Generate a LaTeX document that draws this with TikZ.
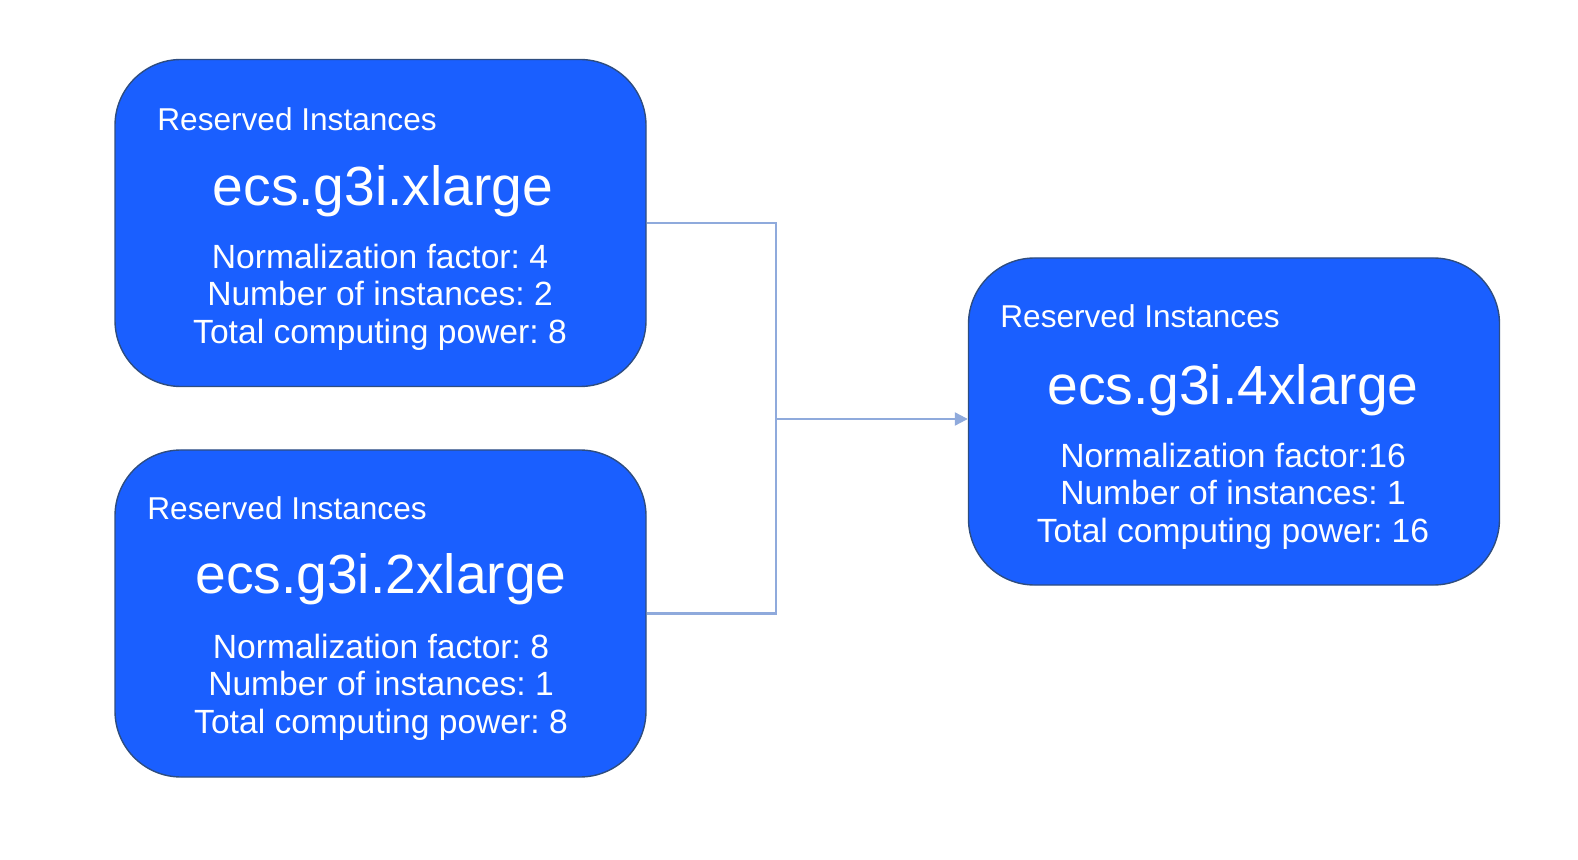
\documentclass[tikz,border=0pt]{standalone}
\usepackage{fontspec}
\setmainfont{Liberation Sans}
\frenchspacing
\usetikzlibrary{arrows.meta}
\definecolor{riblue}{HTML}{1A5FFF}
\definecolor{riedge}{HTML}{2E4D80}
\definecolor{linkblue}{HTML}{8FAADC}

\begin{document}
\begin{tikzpicture}[x=0.5pt,y=-0.5pt,
  ribox/.style={draw=riedge,line width=0.7pt,fill=riblue,rounded corners=33pt,
    minimum width=265.5pt,minimum height=163.5pt,inner sep=0pt},
  tag/.style={text=white,font=\fontsize{15.8}{18}\selectfont,anchor=west,inner sep=0pt},
  title/.style={text=white,font=\fontsize{27.6}{32}\selectfont,inner sep=0pt},
  info/.style={text=white,font=\fontsize{16.8}{18.8}\selectfont,align=center,inner sep=0pt},
  link/.style={draw=linkblue,line width=1.1pt}]
  \useasboundingbox (0,0) rectangle (1578,860);

  % instance boxes
  \node[ribox] (ri1) at (380.5,223) {};
  \node[ribox] (ri2) at (380.5,613.5) {};
  \node[ribox] (ri3) at (1234,421.5) {};

  \node[tag] (tag1) at (157,119) {Reserved Instances};
  \node[title] (type1) at (383,191) {ecs.g3i.xlarge};
  \node[info] (info1) at (380,297)
    {Normalization factor: 4\\Number of instances: 2\\Total computing power: 8};

  \node[tag] (tag2) at (147,508) {Reserved Instances};
  \node[title] (type2) at (381,579) {ecs.g3i.2xlarge};
  \node[info] (info2) at (381,687)
    {Normalization factor: 8\\Number of instances: 1\\Total computing power: 8};

  \node[tag] (tag3) at (1000,316) {Reserved Instances};
  \node[title] (type3) at (1233,390) {ecs.g3i.4xlarge};
  \node[info] (info3) at (1233,496)
    {Normalization factor:16\\Number of instances: 1\\Total computing power: 16};

  % merge into the larger instance
  \coordinate (bus) at (776,419);
  \draw[link] (ri1.east) -| (bus);
  \draw[link] (ri2.east) -| (bus);
  \draw[link,-{Triangle[length=6.5pt,width=6.5pt]}] (bus) -- (bus -| ri3.west);
\end{tikzpicture}
\end{document}
